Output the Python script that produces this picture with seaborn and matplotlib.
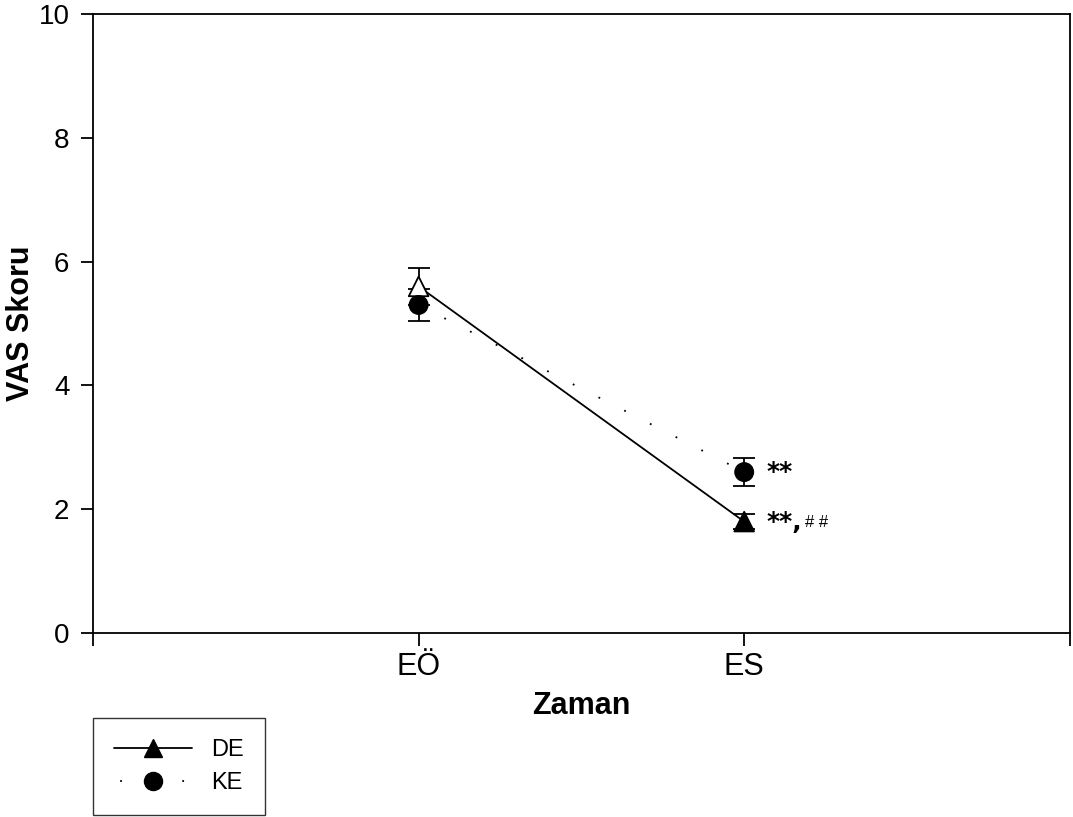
import numpy as np
import pandas as pd
import matplotlib
matplotlib.use("Agg")
import matplotlib.pyplot as plt
import seaborn as sns
from matplotlib.lines import Line2D

# data
times = ["EÖ", "ES"]
de_mean = [5.6, 1.8]
de_err = [0.3, 0.12]
ke_mean = [5.3, 2.6]
ke_err = [0.26, 0.23]
de_fill = ["white", "black"]   # first DE marker appears hollow in the original
ke_fill = ["black", "black"]
notes_ke = ["", "**"]
notes_de = ["", "**,"]
notes_de_small = ["", "# #"]

sns.set_style("white")
plt.rcParams["font.family"] = ["Liberation Sans", "DejaVu Sans"]
plt.rcParams.update({"text.color": "black", "axes.labelcolor": "black",
                     "xtick.color": "black", "ytick.color": "black"})

pos = np.arange(1, len(times) + 1)
df = pd.DataFrame({
    "pos": np.concatenate([pos, pos]),
    "mean": de_mean + ke_mean,
    "err": de_err + ke_err,
    "fill": de_fill + ke_fill,
    "grup": ["DE"] * len(times) + ["KE"] * len(times),
})

fig = plt.figure(figsize=(10.73, 8.17), dpi=100)
ax = fig.add_axes([0.0867, 0.2252, 0.9103, 0.7576])

styles = {
    "DE": dict(marker="^", linestyle="-", s=200),
    "KE": dict(marker="o", linestyle=(0, (1, 15)), s=170),
}
for grup, sub in df.groupby("grup"):
    st = styles[grup]
    ax.errorbar(sub["pos"], sub["mean"], yerr=sub["err"], fmt="none",
                ecolor="black", elinewidth=1.3, capsize=8, capthick=1.3, zorder=2)
    sns.lineplot(data=sub, x="pos", y="mean", ax=ax, color="black",
                 linewidth=1.3, linestyle=st["linestyle"], zorder=3)
    sns.scatterplot(data=sub, x="pos", y="mean", ax=ax, c=list(sub["fill"]),
                    marker=st["marker"], s=st["s"], edgecolor="black",
                    linewidth=1.3, zorder=4)

star_font = dict(family="DejaVu Sans", fontsize=18, fontweight="bold")
for p, m, t in zip(pos, ke_mean, notes_ke):
    if t:
        ax.text(p + 0.07, m, t, va="center", ha="left", **star_font)
for p, m, t, s in zip(pos, de_mean, notes_de, notes_de_small):
    if t:
        txt = ax.text(p + 0.07, m, t, va="center", ha="left", **star_font)
        ax.annotate(s, xy=(1, 0.45), xycoords=txt, xytext=(2, 0), textcoords="offset points",
                    fontsize=12, va="center", ha="left")

ax.set_xlim(0, 3)
ax.set_ylim(0, 10)
ax.set_xticks([0] + list(pos) + [3])
ax.set_xticklabels([""] + times + [""], fontsize=22)
ax.set_yticks(np.arange(0, 11, 2))
ax.set_yticklabels([str(v) for v in range(0, 11, 2)], fontsize=20)
ax.tick_params(axis="both", direction="out", length=9, width=1.3,
               bottom=True, left=True)
ax.tick_params(axis="x", pad=5)
ax.tick_params(axis="y", pad=8)
for sp in ax.spines.values():
    sp.set_color("black")
    sp.set_linewidth(1.3)
ax.set_xlabel("Zaman", fontsize=22, fontweight="bold", labelpad=6)
ax.set_ylabel("VAS Skoru", fontsize=22, fontweight="bold")
ax.yaxis.set_label_coords(-0.058, 0.5)

handles = [
    Line2D([], [], color="black", linestyle="-", marker="^", markersize=13, linewidth=1.3),
    Line2D([], [], color="black", linestyle=(31, (1, 33.4)), marker="o", markersize=13, linewidth=1.3),
]
leg = fig.legend(handles, ["DE", "KE"], loc="lower left", bbox_to_anchor=(0.0867, 0.002),
                 borderaxespad=0, frameon=True, fancybox=False, edgecolor="black",
                 fontsize=17, handlelength=3.3, borderpad=0.9, labelspacing=0.45,
                 handletextpad=0.8)
leg.get_frame().set_linewidth(1.0)

fig.savefig("out.png", dpi=100)
